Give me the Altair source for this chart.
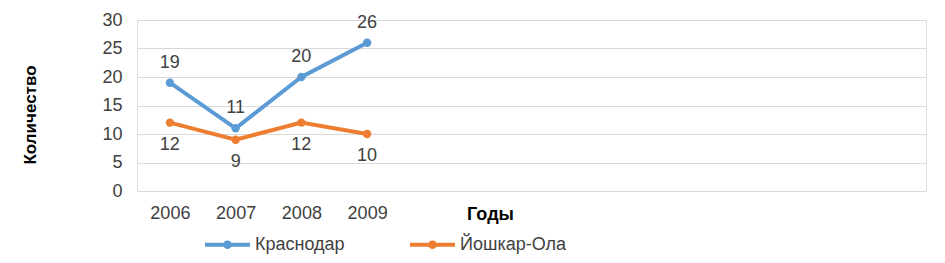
import altair as alt
import pandas as pd

years = [2006, 2007, 2008, 2009]
series_names = ["Краснодар", "Йошкар-Ола"]
krasnodar = [19, 11, 20, 26]
yoshkar = [12, 9, 12, 10]
colors = ["#5B9BD5", "#ED7D31"]
y_ticks = [0, 5, 10, 15, 20, 25, 30]

rows = []
for yr, v in zip(years, krasnodar):
    rows.append({"year": yr, "series": series_names[0], "value": v})
for yr, v in zip(years, yoshkar):
    rows.append({"year": yr, "series": series_names[1], "value": v})
df = pd.DataFrame(rows)

FONT = "Liberation Sans"
FS = 18
sym_path = "M-1,0L1,0M0.1,0A0.1,0.1,0,1,1,-0.1,0A0.1,0.1,0,1,1,0.1,0"

x_enc = alt.X(
    "year:Q",
    scale=alt.Scale(domain=[2005.5, 2017.5], nice=False, zero=False),
    axis=alt.Axis(
        values=years, format="d", ticks=False, domain=False, grid=False,
        labelFontSize=FS, labelColor="#404040", labelPadding=13, labelFont=FONT,
        title="Годы", titleFontSize=FS, titleFontWeight="bold", titleColor="#000000",
        titleX=353, titleY=28.5, titleAlign="center", titleBaseline="alphabetic",
        titleFont=FONT,
    ),
)
y_enc = alt.Y(
    "value:Q",
    scale=alt.Scale(domain=[0, 30], nice=False),
    axis=alt.Axis(
        values=y_ticks, ticks=False, domain=False, grid=True,
        gridColor="#D9D9D9", gridWidth=1.2,
        labelFontSize=FS, labelColor="#404040", labelPadding=15, labelFont=FONT,
        title="Количество", titleFontSize=17, titleFontWeight="bold", titleColor="#000000",
        titleX=-102, titleY=94.5, titleAngle=-90, titleAlign="center",
        titleBaseline="alphabetic", titleFont=FONT,
    ),
)
color_scale = alt.Scale(domain=series_names, range=colors)

base = alt.Chart(df)

lines = base.mark_line(strokeWidth=4).encode(
    x=x_enc, y=y_enc,
    color=alt.Color(
        "series:N", scale=color_scale, sort=series_names,
        legend=alt.Legend(
            title=None, orient="none", direction="horizontal",
            legendX=66, legendY=200,
            symbolType=sym_path, symbolSize=2025, symbolStrokeWidth=4,
            labelFontSize=FS, labelColor="#404040", labelFont=FONT,
            labelOffset=3, columnPadding=57,
        ),
    ),
)
points = base.mark_point(filled=True, size=70, opacity=1).encode(
    x=x_enc, y=y_enc,
    color=alt.Color("series:N", scale=color_scale, legend=None),
)
labels_top = base.transform_filter(
    alt.datum.series == series_names[0]
).mark_text(dy=-20, fontSize=FS, color="#404040", font=FONT, baseline="middle").encode(
    x=x_enc, y=y_enc, text="value:Q"
)
labels_bottom = base.transform_filter(
    alt.datum.series == series_names[1]
).mark_text(dy=22, fontSize=FS, color="#404040", font=FONT, baseline="middle").encode(
    x=x_enc, y=y_enc, text="value:Q"
)

chart = alt.layer(lines, points, labels_top, labels_bottom).properties(
    width=789, height=171,
    autosize=alt.AutoSizeParams(type="none"),
    padding={"left": 129, "top": 12, "right": 10, "bottom": 63},
).configure_view(stroke=None, strokeWidth=0).configure_axis(
    domain=False, ticks=False
).configure(font=FONT)

chart.save("out.html", embed_options={"renderer": "svg", "actions": False})
